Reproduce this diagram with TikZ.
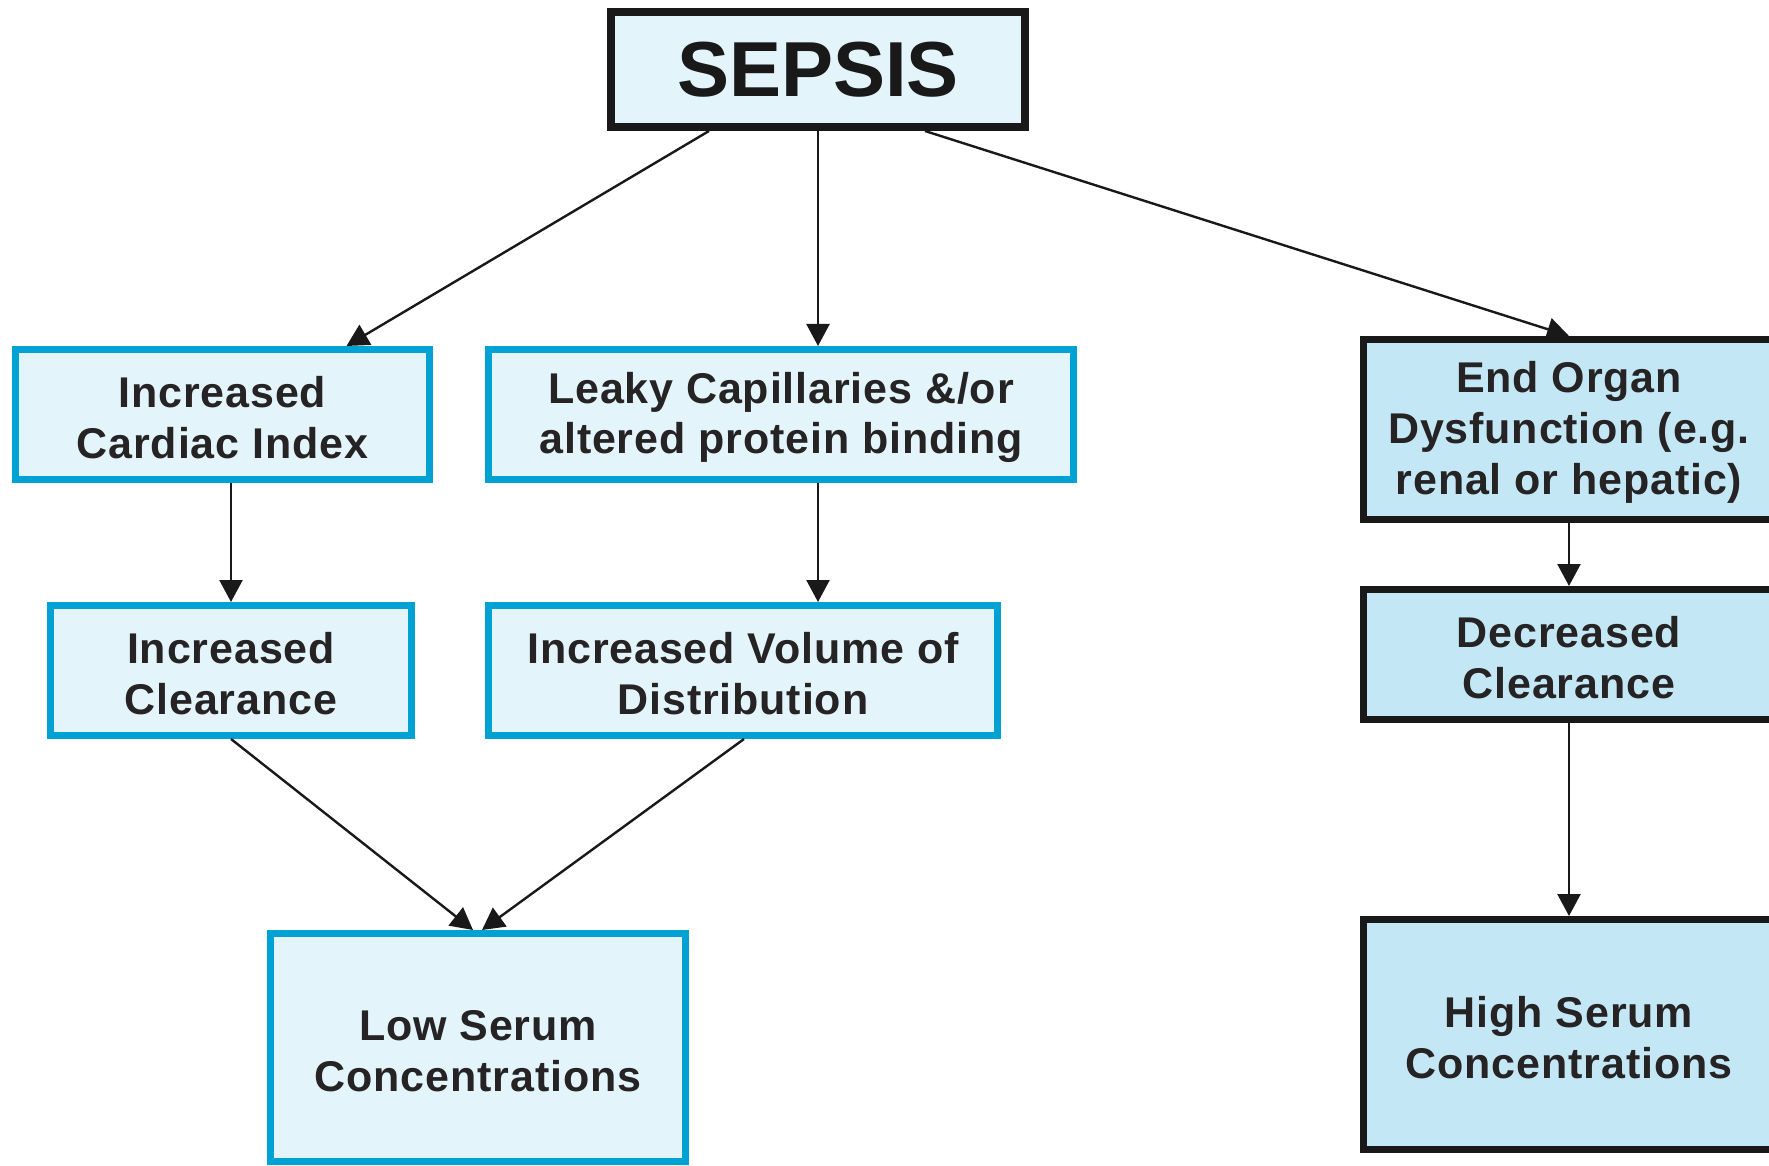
\documentclass[tikz,border=0pt]{standalone}
\usepackage{fontspec}
\setmainfont{Liberation Sans}
\newfontfamily\boxfont[LetterSpace=2]{Liberation Sans}
\usetikzlibrary{arrows.meta}
\definecolor{boxblue}{HTML}{00A2D3}
\definecolor{paleblue}{HTML}{E3F4FB}
\definecolor{midblue}{HTML}{C4E7F6}
\definecolor{ink}{HTML}{262324}
% invisible strut that gives each label a little extra room above its first line
\newcommand\topstrut{\rule{0pt}{18.5pt}}
\begin{document}
\begin{tikzpicture}[x=0.5pt, y=-0.5pt,
  box/.style={draw, line width=3.5pt, inner sep=0pt, align=center,
    font=\boxfont\bfseries\fontsize{21.5}{25.4}\selectfont, text=ink},
  bluebox/.style={box, draw=boxblue, fill=paleblue},
  darkbox/.style={box, draw=black!90, fill=midblue},
  topbox/.style={draw=black!90, fill=paleblue, line width=4pt, inner sep=0pt,
    font=\bfseries\fontsize{39}{43}\selectfont, text=black!90},
  arrow/.style={-{Triangle[length=11pt,width=11.5pt]}, line width=1.2pt, draw=black!90}]
\useasboundingbox (0,0) rectangle (1769,1166);
\clip (0,0) rectangle (1769,1166);

% boxes
\node[topbox, minimum width=207pt, minimum height=57.5pt] (sepsis) at (818,69.5) {SEPSIS};

\node[bluebox, minimum width=207pt, minimum height=65pt] (cardiac) at (222.5,414.5)
  {\topstrut Increased\\Cardiac Index};
\node[bluebox, minimum width=292.5pt, minimum height=65pt] (leaky) at (781,414.5)
  {\topstrut Leaky Capillaries \&/or\\altered protein binding};
\node[darkbox, minimum width=205.5pt, minimum height=90pt] (endorg) at (1569,429.5)
  {\topstrut End Organ\\Dysfunction (e.g.\\renal or hepatic)};

\node[bluebox, minimum width=180.5pt, minimum height=65pt] (clear1) at (231,670.5)
  {\topstrut Increased\\Clearance};
\node[bluebox, minimum width=254.5pt, minimum height=65pt] (volume) at (743,670.5)
  {\topstrut Increased Volume of\\Distribution};
\node[darkbox, minimum width=205.5pt, minimum height=65pt] (decr) at (1569,654.5)
  {\topstrut Decreased\\Clearance};

\node[bluebox, minimum width=207.5pt, minimum height=114pt] (low) at (478,1047.5)
  {\topstrut Low Serum\\Concentrations};
\node[darkbox, minimum width=205.5pt, minimum height=115pt] (high) at (1569,1034.5)
  {\topstrut High Serum\\Concentrations};

% connectors
\draw[arrow] ([xshift=-54.5pt]sepsis.south) -- ([xshift=62pt]cardiac.north);
\draw[arrow] (sepsis.south) -- (sepsis.south |- leaky.north);
\draw[arrow] ([xshift=53.5pt]sepsis.south) -- (endorg.north);

\draw[arrow] (clear1.north |- cardiac.south) -- (clear1.north);
\draw[arrow] (sepsis.south |- leaky.south) -- (sepsis.south |- volume.north);
\draw[arrow] (endorg.south) -- (decr.north);

\draw[arrow] (clear1.south) -- ([xshift=-2.5pt]low.north);
\draw[arrow] ([xshift=0.5pt]volume.south) -- ([xshift=2pt]low.north);
\draw[arrow] (decr.south) -- (high.north);
\end{tikzpicture}
\end{document}
